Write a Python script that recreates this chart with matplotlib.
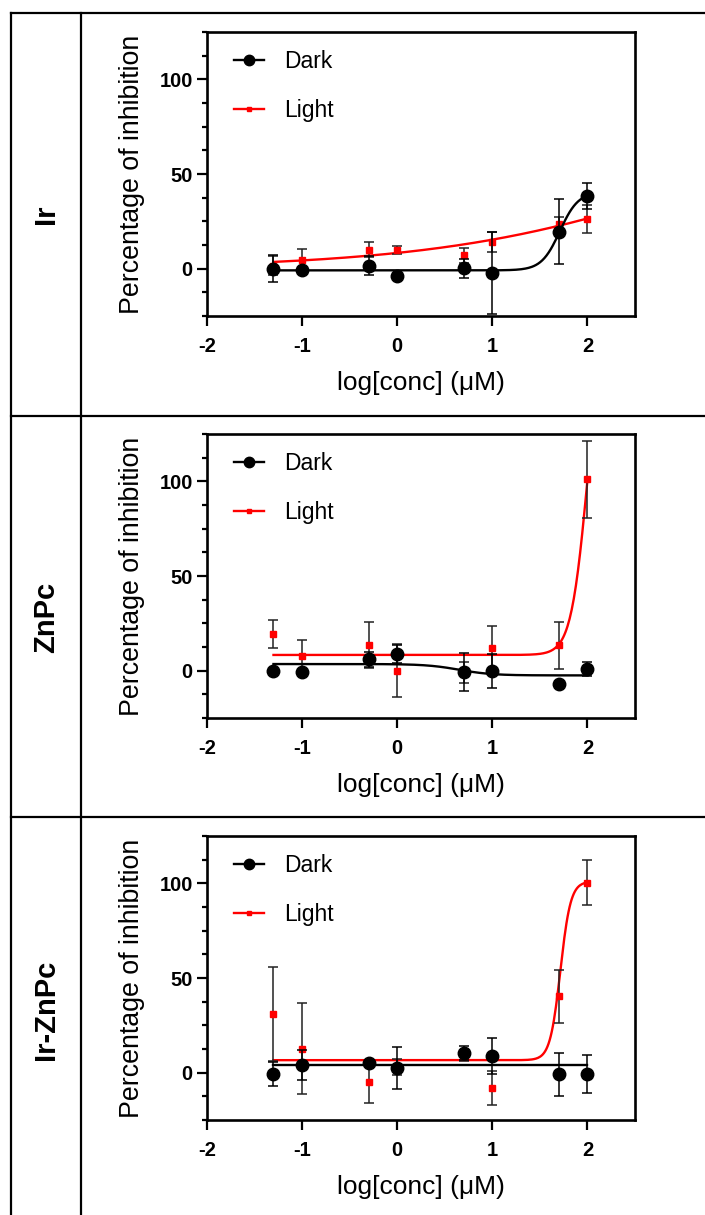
import numpy as np
import matplotlib
matplotlib.use("Agg")
import matplotlib.pyplot as plt
from matplotlib.lines import Line2D
from matplotlib.ticker import MultipleLocator

plt.rcParams['font.family'] = ['Liberation Sans', 'DejaVu Sans']
plt.rcParams['axes.unicode_minus'] = False

# log[conc] of the tested concentrations (0.05 ... 100 uM)
log_conc = [-1.301, -1.0, -0.301, 0.0, 0.699, 1.0, 1.699, 2.0]

compounds = ["Ir", "ZnPc", "Ir-ZnPc"]

# mean % inhibition and error
ir_dark = [0.0, -0.9, 1.6, -3.7, 0.2, -2.3, 19.6, 38.4]
ir_dark_err = [7.0, 1.0, 5.0, 1.0, 5.0, 21.5, 17.0, 6.7]
ir_light = [1.5, 4.4, 10.0, 10.0, 7.0, 14.2, 23.5, 26.3]
ir_light_err = [5.0, 6.0, 4.0, 2.0, 4.0, 5.3, 4.0, 7.3]

znpc_dark = [0.0, -0.5, 5.9, 8.8, -0.7, -0.3, -7.2, 0.9]
znpc_dark_err = [1.0, 1.0, 4.0, 5.0, 10.0, 9.0, 2.0, 3.5]
znpc_light = [19.3, 8.0, 13.6, 0.0, -1.0, 12.2, 13.3, 101.0]
znpc_light_err = [7.4, 8.0, 12.0, 14.0, 5.5, 11.6, 12.5, 20.5]

irznpc_dark = [-0.5, 4.2, 4.9, 2.6, 10.5, 8.7, -0.9, -0.5]
irznpc_dark_err = [6.3, 8.0, 1.0, 11.0, 3.7, 9.4, 11.5, 10.0]
irznpc_light = [30.9, 12.6, -4.8, 3.0, 9.0, -8.0, 40.3, 100.3]
irznpc_light_err = [24.8, 24.0, 11.0, 4.0, 3.0, 9.0, 14.0, 12.0]

# fitted dose-response curves: (bottom, top, logEC50, hill slope)
ir_dark_fit = (-0.9, 40.5, 1.71, 4.5)
ir_light_fit = (0.0, 100.0, 3.475, 0.3)
znpc_dark_fit = (3.5, -2.5, 0.65, 2.5)
znpc_light_fit = (8.3, 193.0, 2.0, 5.0)
irznpc_dark_fit = (3.8, 3.8, 0.0, 1.0)
irznpc_light_fit = (6.6, 101.0, 1.715, 8.0)

panels = [
    (ir_dark, ir_dark_err, ir_dark_fit, ir_light, ir_light_err, ir_light_fit),
    (znpc_dark, znpc_dark_err, znpc_dark_fit, znpc_light, znpc_light_err, znpc_light_fit),
    (irznpc_dark, irznpc_dark_err, irznpc_dark_fit, irznpc_light, irznpc_light_err, irznpc_light_fit),
]


def four_pl(x, bottom, top, logec50, hill):
    return bottom + (top - bottom) / (1 + 10 ** ((logec50 - x) * hill))


W, H = 705, 1215
fig = plt.figure(figsize=(W / 100, H / 100), dpi=100)


def px_line(x0, y0, x1, y1):
    fig.add_artist(Line2D([x0 / W, x1 / W], [1 - y0 / H, 1 - y1 / H],
                          color='black', lw=1.6, transform=fig.transFigure))


# table grid
px_line(11, 13, W, 13)
px_line(11, 416, W, 416)
px_line(11, 817, W, 817)
px_line(11, 13, 11, H)
px_line(81, 13, 81, H)

row_off = 402
label_y = [214, 617, 1010]
xfit = np.linspace(log_conc[0], log_conc[-1], 300)

for i, (dk, dke, dkf, lt, lte, ltf) in enumerate(panels):
    top = 32 + row_off * i
    ax = fig.add_axes([207 / W, 1 - (top + 284) / H, 428 / W, 284 / H])

    # Light series
    ax.plot(xfit, four_pl(xfit, *ltf), color='#ff0000', lw=1.7, zorder=2)
    ax.errorbar(log_conc, lt, yerr=lte, fmt='s', color='#ff0000', ms=3.8,
                ecolor='#222222', elinewidth=1.1, capsize=3.6, capthick=1.1, zorder=3)
    # Dark series
    ax.plot(xfit, four_pl(xfit, *dkf), color='black', lw=1.7, zorder=4)
    ax.errorbar(log_conc, dk, yerr=dke, fmt='o', color='black', ms=9,
                ecolor='black', elinewidth=1.1, capsize=3.6, capthick=1.1, zorder=5)

    ax.set_xlim(-2, 2.5)
    ax.set_ylim(-25, 125)
    ax.set_xticks([-2, -1, 0, 1, 2])
    ax.set_yticks([0, 50, 100])
    ax.yaxis.set_minor_locator(MultipleLocator(12.5))
    for s in ax.spines.values():
        s.set_linewidth(1.9)
    ax.tick_params(axis='both', which='major', length=7.2, width=1.6, labelsize=14.5)
    ax.tick_params(axis='y', which='minor', length=3.6, width=1.6)
    ax.tick_params(axis='x', pad=8)
    ax.tick_params(axis='y', pad=3)
    for lbl in ax.get_xticklabels() + ax.get_yticklabels():
        lbl.set_fontweight('bold')

    ax.set_xlabel("log[conc] (μM)", fontsize=19)
    ax.xaxis.set_label_coords(0.5, -0.195)
    ax.set_ylabel("Percentage of inhibition", fontsize=19.3)
    ax.yaxis.set_label_coords(-0.145, 0.5)

    handles = [
        Line2D([], [], color='black', lw=1.7, marker='o', ms=7.5),
        Line2D([], [], color='#ff0000', lw=1.7, marker='s', ms=3.5),
    ]
    ax.legend(handles, ["Dark", "Light"], loc='upper left', bbox_to_anchor=(0.063, 0.936),
              frameon=False, fontsize=16.5, handlelength=1.3, handletextpad=0.9,
              labelspacing=1.12, borderaxespad=0, borderpad=0)

    fig.text(46 / W, 1 - label_y[i] / H, compounds[i], rotation=90, fontsize=21,
             fontweight='bold', ha='center', va='center')

fig.savefig("out.png", dpi=100)
